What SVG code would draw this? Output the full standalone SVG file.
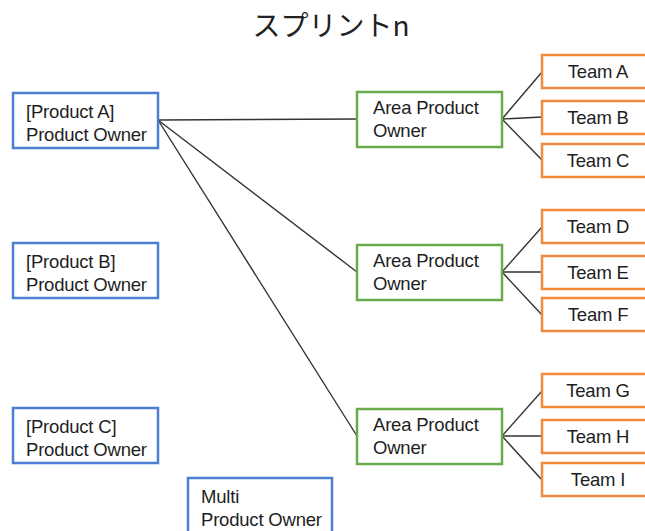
<svg xmlns="http://www.w3.org/2000/svg" width="645" height="531" viewBox="0 0 645 531">
  <style>
    .box { fill: #ffffff; stroke-width: 2.5; }
    .po { stroke: #4a7fd2; }
    .apo { stroke: #6aac4c; }
    .team { stroke: #f28a3c; }
    .lbl { font-family: "Liberation Sans", Arial, sans-serif; font-size: 18.5px; fill: #1e1e1e; letter-spacing: -0.2px; }
    .mid { text-anchor: middle; }
    .title { font-family: "Noto Sans CJK JP", "Noto Sans", sans-serif; font-size: 28px; fill: #222222; text-anchor: middle; }
    .conn line { stroke: #333333; stroke-width: 1.4; }
  </style>

  <text class="title" x="331" y="36">スプリントn</text>

  <!-- connectors -->
  <g id="connectors" class="conn">
    <line x1="158" y1="120" x2="357" y2="119"/>
    <line x1="158" y1="120" x2="357" y2="272"/>
    <line x1="158" y1="120" x2="357" y2="436"/>
    <line x1="502" y1="119" x2="542" y2="72"/>
    <line x1="502" y1="119" x2="542" y2="117"/>
    <line x1="502" y1="119" x2="542" y2="160"/>
    <line x1="502" y1="272" x2="542" y2="227"/>
    <line x1="502" y1="272" x2="542" y2="272"/>
    <line x1="502" y1="272" x2="542" y2="315"/>
    <line x1="502" y1="436" x2="542" y2="391"/>
    <line x1="502" y1="436" x2="542" y2="436"/>
    <line x1="502" y1="436" x2="542" y2="480"/>
  </g>

  <!-- product owners -->
  <g id="po-a">
    <rect class="box po" x="13" y="93" width="145" height="55"/>
    <text class="lbl" x="26" y="118">[Product A]</text>
    <text class="lbl" x="26" y="141">Product Owner</text>
  </g>
  <g id="po-b">
    <rect class="box po" x="13" y="243" width="145" height="55"/>
    <text class="lbl" x="26" y="268">[Product B]</text>
    <text class="lbl" x="26" y="291">Product Owner</text>
  </g>
  <g id="po-c">
    <rect class="box po" x="13" y="408" width="145" height="55"/>
    <text class="lbl" x="26" y="433">[Product C]</text>
    <text class="lbl" x="26" y="456">Product Owner</text>
  </g>
  <g id="po-multi">
    <rect class="box po" x="188" y="478" width="144" height="70"/>
    <text class="lbl" x="201" y="503">Multi</text>
    <text class="lbl" x="201" y="526">Product Owner</text>
  </g>

  <!-- area product owners -->
  <g id="apo-1">
    <rect class="box apo" x="357" y="92" width="145" height="55"/>
    <text class="lbl" x="373" y="114">Area Product</text>
    <text class="lbl" x="373" y="137">Owner</text>
  </g>
  <g id="apo-2">
    <rect class="box apo" x="357" y="245" width="145" height="55"/>
    <text class="lbl" x="373" y="267">Area Product</text>
    <text class="lbl" x="373" y="290">Owner</text>
  </g>
  <g id="apo-3">
    <rect class="box apo" x="357" y="409" width="145" height="55"/>
    <text class="lbl" x="373" y="431">Area Product</text>
    <text class="lbl" x="373" y="454">Owner</text>
  </g>

  <!-- teams -->
  <g id="team-a"><rect class="box team" x="542" y="55" width="115" height="33"/><text class="lbl mid" x="598" y="78">Team A</text></g>
  <g id="team-b"><rect class="box team" x="542" y="101" width="115" height="33"/><text class="lbl mid" x="598" y="124">Team B</text></g>
  <g id="team-c"><rect class="box team" x="542" y="144" width="115" height="33"/><text class="lbl mid" x="598" y="167">Team C</text></g>
  <g id="team-d"><rect class="box team" x="542" y="210" width="115" height="33"/><text class="lbl mid" x="598" y="233">Team D</text></g>
  <g id="team-e"><rect class="box team" x="542" y="256" width="115" height="33"/><text class="lbl mid" x="598" y="279">Team E</text></g>
  <g id="team-f"><rect class="box team" x="542" y="298" width="115" height="33"/><text class="lbl mid" x="598" y="321">Team F</text></g>
  <g id="team-g"><rect class="box team" x="542" y="374" width="115" height="33"/><text class="lbl mid" x="598" y="397">Team G</text></g>
  <g id="team-h"><rect class="box team" x="542" y="420" width="115" height="33"/><text class="lbl mid" x="598" y="443">Team H</text></g>
  <g id="team-i"><rect class="box team" x="542" y="463" width="115" height="33"/><text class="lbl mid" x="598" y="486">Team I</text></g>
</svg>
